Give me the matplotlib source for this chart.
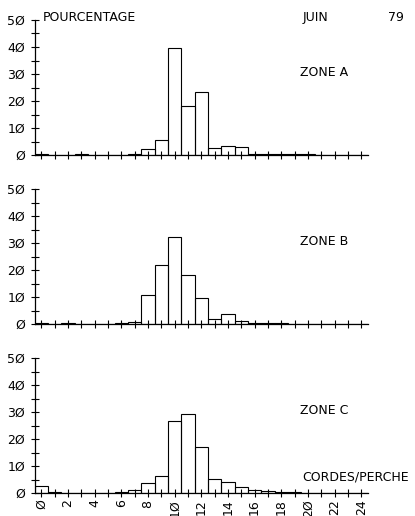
import matplotlib
matplotlib.use("Agg")
import matplotlib.pyplot as plt

# ---- data ----
cordes = list(range(25))
zone_a = [0.4, 0, 0, 0.3, 0, 0, 0, 0.2, 2.2, 5.4, 39.6, 18.0, 23.2, 2.7, 3.4, 2.8,
          0.5, 0.2, 0.3, 0.5, 0.2, 0, 0, 0, 0]
zone_b = [0.2, 0, 0.2, 0, 0, 0, 0.2, 0.6, 10.7, 21.9, 32.3, 18.0, 9.5, 1.8, 3.7, 1.1,
          0.3, 0.2, 0.2, 0.1, 0.1, 0, 0, 0, 0]
zone_c = [2.7, 0.2, 0, 0, 0, 0, 0.4, 1.1, 3.7, 6.4, 26.5, 29.3, 17.0, 5.2, 4.0, 2.1,
          1.2, 0.8, 0.5, 0.3, 0.1, 0, 0, 0, 0]
zones = ["ZONE A", "ZONE B", "ZONE C"]
y_ticks = [0, 10, 20, 30, 40, 50]
y_labels = ["Ø", "1Ø", "2Ø", "3Ø", "4Ø", "5Ø"]
x_ticks = list(range(0, 25, 2))
x_labels = ["Ø", "2", "4", "6", "8", "1Ø", "12", "14", "16", "18", "2Ø", "22", "24"]

W, H = 415, 516
fig = plt.figure(figsize=(W / 100, H / 100), dpi=100)
plt.rcParams['font.family'] = ['DejaVu Sans']
FS = 9

left_px, right_px = 34.5, 368
bottoms_px = [155, 324, 493]
height_px = 135

for i, (vals, name, base) in enumerate(zip([zone_a, zone_b, zone_c], zones, bottoms_px)):
    ax = fig.add_axes([left_px / W, 1 - base / H, (right_px - left_px) / W, height_px / H])
    ax.bar(cordes, vals, width=1.0, fill=False, edgecolor='black', linewidth=0.8)
    ax.set_xlim(-0.5, 24.5)
    ax.set_ylim(0, 50)
    for s in ['top', 'right']:
        ax.spines[s].set_visible(False)
    for s in ['left', 'bottom']:
        ax.spines[s].set_linewidth(0.9)
    ax.set_yticks(y_ticks)
    ax.set_yticklabels(y_labels)
    ax.set_yticks(range(5, 50, 10), minor=True)
    ax.set_xticks(range(25), minor=True)
    ax.tick_params(axis='both', which='both', direction='inout', length=5.5, width=0.8,
                   labelsize=FS)
    ax.tick_params(axis='y', pad=4)
    ax.tick_params(axis='x', pad=2)
    ax.set_xticks(x_ticks)
    if i == 2:
        ax.set_xticklabels(x_labels, rotation=90)
    else:
        ax.set_xticklabels([])
    ax.text(19.4, 30.7, name, ha='left', va='center', fontsize=FS, clip_on=False)
    if i == 2:
        ax.text(19.55, 5.9, "CORDES/PERCHE", ha='left', va='center', fontsize=FS, clip_on=False)

fig.text(43 / W, 1 - 17 / H, "POURCENTAGE", ha='left', va='center', fontsize=FS)
fig.text(303 / W, 1 - 17 / H, "JUIN", ha='left', va='center', fontsize=FS)
fig.text(388 / W, 1 - 17 / H, "79", ha='left', va='center', fontsize=FS)

fig.savefig("out.png", dpi=100)
